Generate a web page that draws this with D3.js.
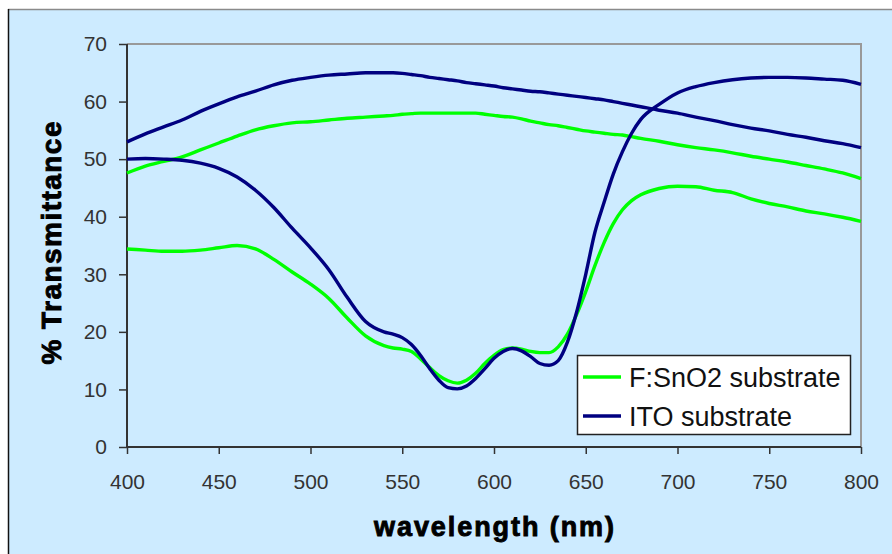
<!DOCTYPE html>
<html>
<head>
<meta charset="utf-8">
<script src="https://cdn.jsdelivr.net/npm/d3@7"></script>
<style>
  html, body { margin: 0; padding: 0; background: #ffffff; }
  svg { display: block; }
</style>
</head>
<body>
<svg id="chart" width="892" height="554"></svg>
<script>
// ---- data ----
const wavelengths = [400,410,420,430,440,450,460,470,480,490,500,510,520,530,540,
  545,550,555,560,565,570,575,580,585,590,595,600,605,610,615,620,625,630,635,640,645,650,655,660,665,670,675,680,
  690,700,710,720,730,740,750,760,770,780,790,800];

// F:SnO2 substrate – upper curve
const ftoUpper = [47.6,48.8,49.6,50.4,51.6,52.8,54.0,55.1,55.8,56.3,56.5,56.8,57.1,57.3,57.5,
  57.6,57.8,57.9,58.0,58.0,58.0,58.0,58.0,58.0,58.0,57.8,57.6,57.4,57.3,57.0,56.6,56.3,56.0,55.8,55.5,55.2,54.9,54.7,54.5,54.3,54.2,53.9,53.6,
  53.1,52.5,52.0,51.6,51.1,50.5,50.0,49.5,48.9,48.3,47.6,46.6];
// F:SnO2 substrate – lower curve
const ftoLower = [34.4,34.2,34.0,34.0,34.2,34.6,35.0,34.4,32.6,30.4,28.3,25.8,22.4,19.3,17.6,
  17.2,17.0,16.6,15.3,13.8,12.4,11.5,11.1,11.6,12.8,14.5,15.9,16.9,17.2,17.0,16.6,16.4,16.4,17.4,19.6,23.0,27.0,31.5,35.5,38.8,41.2,42.8,43.8,
  44.9,45.3,45.2,44.6,44.2,43.1,42.3,41.7,41.0,40.5,39.9,39.2];
// ITO substrate – upper curve
const itoUpper = [53.0,54.4,55.6,56.8,58.3,59.6,60.8,61.8,62.9,63.7,64.2,64.6,64.8,65.0,65.0,
  65.0,64.9,64.7,64.5,64.2,64.0,63.8,63.6,63.3,63.1,62.9,62.7,62.4,62.2,62.0,61.8,61.7,61.5,61.3,61.1,60.9,60.7,60.5,60.3,60.0,59.7,59.4,59.1,
  58.5,58.0,57.3,56.7,56.0,55.4,54.9,54.3,53.8,53.2,52.7,52.0];
// ITO substrate – lower curve
const itoLower = [50.0,50.1,50.0,49.8,49.3,48.4,46.9,44.6,41.6,38.0,34.6,30.8,26.0,21.8,20.0,
  19.6,19.0,17.8,15.9,13.6,11.6,10.3,10.1,10.6,11.9,13.6,15.4,16.6,17.1,16.7,15.7,14.5,14.2,15.0,18.2,23.4,30.0,37.3,42.5,47.4,51.3,54.5,56.9,
  59.5,61.5,62.6,63.3,63.8,64.1,64.2,64.2,64.1,63.9,63.7,63.0];

const xTicks = [400,450,500,550,600,650,700,750,800];
const yTicks = [0,10,20,30,40,50,60,70];
const seriesNames = ["F:SnO2 substrate","ITO substrate"];
const seriesColors = ["#00ff00","#000080"];
const xTitle = "wavelength (nm)";
const yTitle = "% Transmittance";

// ---- drawing ----
const svg = d3.select("#chart");
const W = 892, H = 554;
const plot = {left:127, right:861, top:44, bottom:447};

// outer chart area
svg.append("rect").attr("x",8).attr("y",9).attr("width",W-8).attr("height",H-9).attr("fill","#cdebff");
svg.append("line").attr("x1",8).attr("x2",W).attr("y1",9.5).attr("y2",9.5).attr("stroke","#8a8a8a").attr("stroke-width",1.5);
svg.append("line").attr("x1",8.5).attr("x2",8.5).attr("y1",9).attr("y2",H).attr("stroke","#111").attr("stroke-width",1.5);

const x = d3.scaleLinear().domain([400,800]).range([plot.left, plot.right]);
const y = d3.scaleLinear().domain([0,70]).range([plot.bottom, plot.top]);

// plot border (top & right)
svg.append("path")
  .attr("d", `M${plot.left},${plot.top}H${plot.right}V${plot.bottom}`)
  .attr("fill","none").attr("stroke","#999").attr("stroke-width",2);

const tickFont = "'Liberation Sans', Arial, sans-serif";

// y axis
const yAxis = svg.append("g").attr("transform",`translate(${plot.left},0)`)
  .call(d3.axisLeft(y).tickValues(yTicks).tickSize(8).tickPadding(12).tickFormat(d3.format("d")));
// x axis
const xAxis = svg.append("g").attr("transform",`translate(0,${plot.bottom})`)
  .call(d3.axisBottom(x).tickValues(xTicks).tickSize(7).tickPadding(20).tickFormat(d3.format("d")));

[yAxis, xAxis].forEach(g => {
  g.select(".domain").attr("stroke","#333").attr("stroke-width",2);
  g.selectAll(".tick line").attr("stroke","#333").attr("stroke-width",1.5);
  g.selectAll(".tick text").attr("fill","#333").style("font-family",tickFont).style("font-size","21px");
});
xAxis.select(".domain").attr("d",`M${plot.left},0H${plot.right}`);
yAxis.select(".domain").attr("d",`M0,${plot.bottom}V${plot.top}`);

// lines
const line = vals => d3.line()
  .x((d,i) => x(wavelengths[i]))
  .y(d => y(d))
  .curve(d3.curveMonotoneX)(vals);

const lineSets = [
  {vals: ftoLower, color: seriesColors[0]},
  {vals: ftoUpper, color: seriesColors[0]},
  {vals: itoUpper, color: seriesColors[1]},
  {vals: itoLower, color: seriesColors[1]}
];
svg.append("g").selectAll("path").data(lineSets).join("path")
  .attr("d", d => line(d.vals))
  .attr("fill","none")
  .attr("stroke", d => d.color)
  .attr("stroke-width",3.4)
  .attr("stroke-linejoin","round");

// titles
svg.append("text")
  .attr("x", 494).attr("y", 536)
  .attr("text-anchor","middle")
  .attr("textLength", 240).attr("lengthAdjust","spacing")
  .style("font-family", tickFont).style("font-weight","bold").style("font-size","27px")
  .attr("fill","#000").attr("stroke","#000").attr("stroke-width",0.9)
  .text(xTitle);

svg.append("text")
  .attr("transform","translate(61,243) rotate(-90)")
  .attr("text-anchor","middle")
  .attr("textLength", 243).attr("lengthAdjust","spacing")
  .style("font-family", tickFont).style("font-weight","bold").style("font-size","28px")
  .attr("fill","#000").attr("stroke","#000").attr("stroke-width",0.9)
  .text(yTitle);

// legend
const lg = svg.append("g");
lg.append("rect").attr("x",577.5).attr("y",355.5).attr("width",273).attr("height",79)
  .attr("fill","#fff").attr("stroke","#222").attr("stroke-width",1.5);
const legendY = [377, 416];
seriesNames.forEach((name,i) => {
  lg.append("line").attr("x1",583).attr("x2",621).attr("y1",legendY[i]).attr("y2",legendY[i])
    .attr("stroke",seriesColors[i]).attr("stroke-width",3.5);
  lg.append("text").attr("x",629).attr("y",legendY[i]+9.5)
    .style("font-family",tickFont).style("font-size","27px").attr("fill","#111")
    .text(name);
});
</script>
</body>
</html>
